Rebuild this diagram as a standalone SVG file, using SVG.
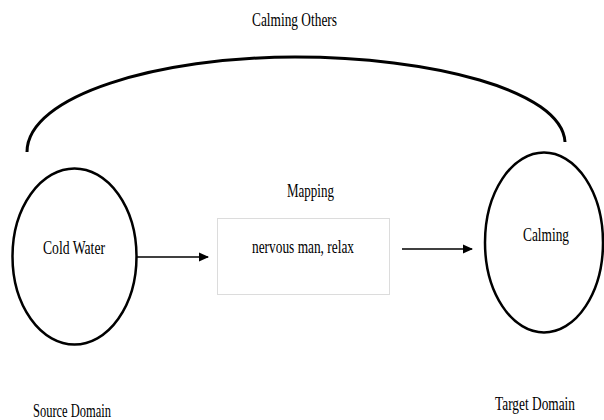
<svg xmlns="http://www.w3.org/2000/svg" width="604" height="420" viewBox="0 0 604 420">
<defs>
<style>
text{font-family:"Liberation Serif","Times New Roman",serif;font-size:19px;fill:#000;text-anchor:middle}
.dom{fill:#fff;stroke:#000;stroke-width:2.5}
.conn{stroke:#000;stroke-width:1.6;fill:none}
.arc{stroke:#000;stroke-width:3;fill:none}
.box{fill:#fff;stroke:#dcdcdc;stroke-width:1}
</style>
<marker id="ah" markerWidth="10" markerHeight="10" refX="9" refY="5" orient="auto" markerUnits="userSpaceOnUse">
<path d="M0,0.5 L10,5 L0,9.5 Z" fill="#000"/>
</marker>
</defs>
<rect width="604" height="420" fill="#fff"/>
<g id="connectors">
<path class="arc" d="M27,152 C27,95 160,57 295,57 C430,57 562,90 565,142"/>
<line class="conn" x1="137" y1="257" x2="208" y2="257" marker-end="url(#ah)"/>
<line class="conn" x1="402" y1="249" x2="472" y2="249" marker-end="url(#ah)"/>
</g>
<g id="label-calming-others">
<text x="294.5" y="26" textLength="85" lengthAdjust="spacingAndGlyphs">Calming Others</text>
</g>
<g id="source">
<ellipse class="dom" cx="74.5" cy="256.5" rx="62" ry="88"/>
<text x="74" y="254" textLength="62" lengthAdjust="spacingAndGlyphs">Cold Water</text>
</g>
<g id="mapping">
<text x="310.5" y="197" textLength="47" lengthAdjust="spacingAndGlyphs">Mapping</text>
<rect class="box" x="217.5" y="218.5" width="172" height="76"/>
<text x="303" y="253" textLength="102" lengthAdjust="spacingAndGlyphs">nervous man, relax</text>
</g>
<g id="target">
<ellipse class="dom" cx="544" cy="242.5" rx="59" ry="90"/>
<text x="546" y="241" textLength="46" lengthAdjust="spacingAndGlyphs">Calming</text>
</g>
<g id="label-source-domain">
<text x="72" y="417" textLength="78" lengthAdjust="spacingAndGlyphs">Source Domain</text>
</g>
<g id="label-target-domain">
<text x="535" y="410" textLength="80" lengthAdjust="spacingAndGlyphs">Target Domain</text>
</g>
</svg>
